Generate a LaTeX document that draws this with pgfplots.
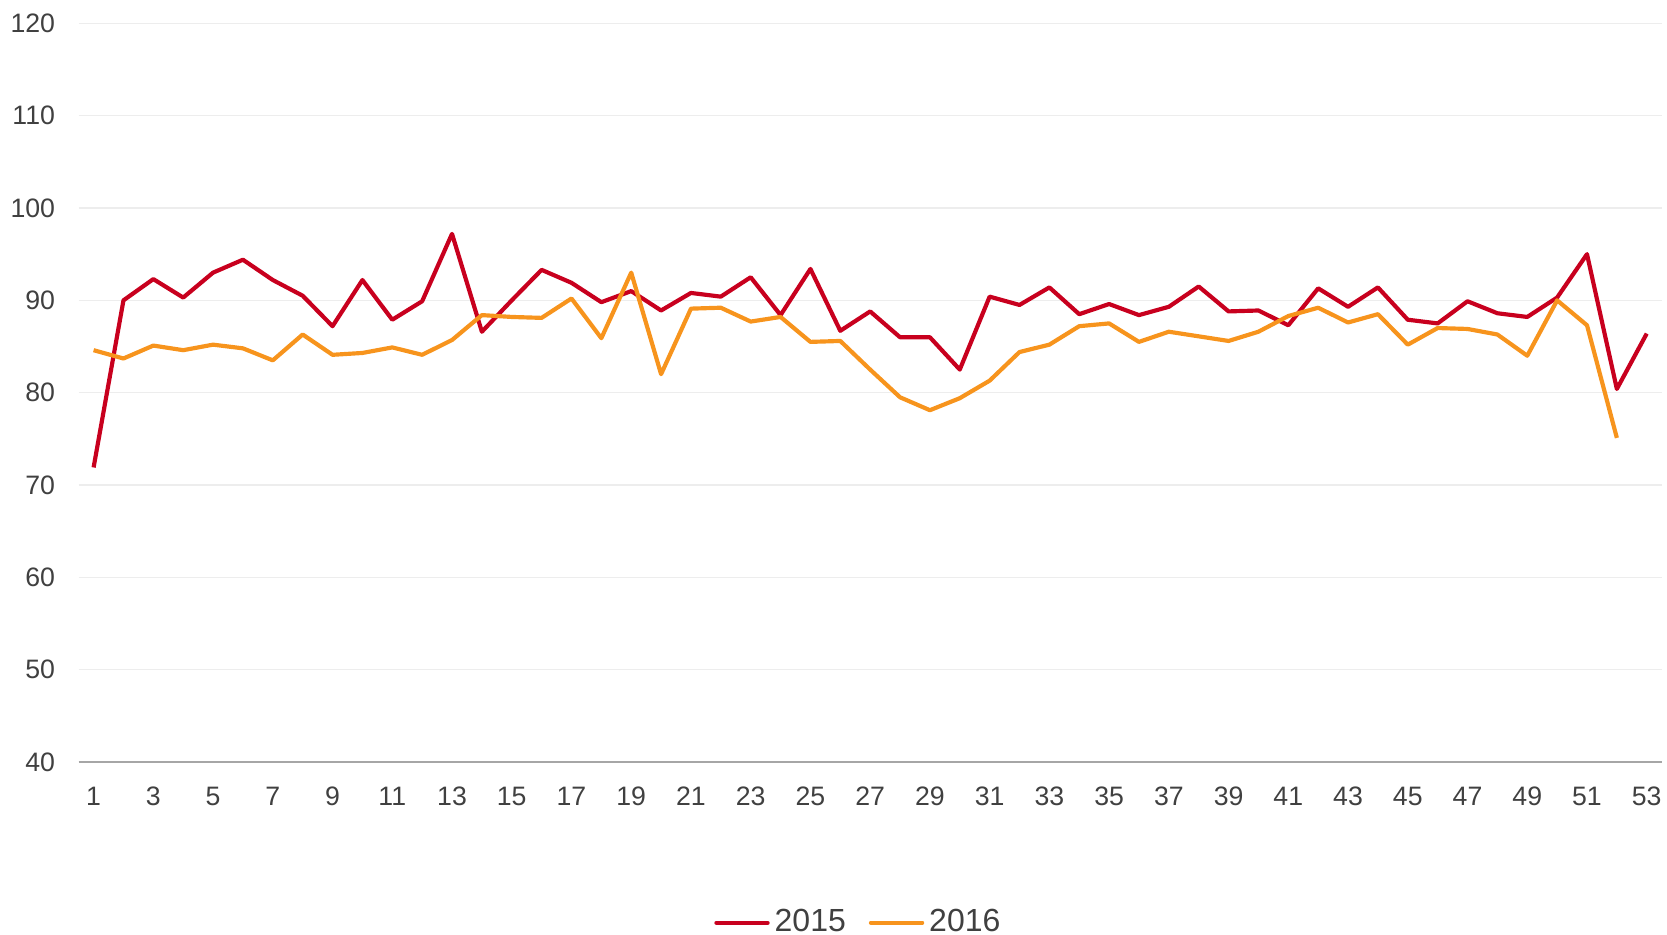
\documentclass[border=0pt]{standalone}
\usepackage{pgfplots}
\pgfplotsset{compat=1.18}
\usepackage{pgfplotstable}
\usepackage{fontspec}
\setmainfont{Liberation Sans}
\definecolor{serA}{HTML}{C8001E}
\definecolor{serB}{HTML}{F7941D}
\definecolor{txt}{HTML}{404040}
\definecolor{grd}{HTML}{EDEDED}
\definecolor{axl}{HTML}{A6A6A6}
\pgfplotstableread{
w v
1 71.9
2 90.0
3 92.3
4 90.3
5 93.0
6 94.4
7 92.2
8 90.5
9 87.2
10 92.2
11 87.9
12 89.9
13 97.2
14 86.6
15 90.0
16 93.3
17 91.9
18 89.8
19 91.0
20 88.9
21 90.8
22 90.4
23 92.5
24 88.4
25 93.4
26 86.7
27 88.8
28 86.0
29 86.0
30 82.5
31 90.4
32 89.5
33 91.4
34 88.5
35 89.6
36 88.4
37 89.3
38 91.5
39 88.8
40 88.9
41 87.3
42 91.3
43 89.3
44 91.4
45 87.9
46 87.5
47 89.9
48 88.6
49 88.2
50 90.3
51 95.0
52 80.4
53 86.4
}\tableA
\pgfplotstableread{
w v
1 84.6
2 83.7
3 85.1
4 84.6
5 85.2
6 84.8
7 83.5
8 86.3
9 84.1
10 84.3
11 84.9
12 84.1
13 85.7
14 88.4
15 88.2
16 88.1
17 90.2
18 85.9
19 93.0
20 82.0
21 89.1
22 89.2
23 87.7
24 88.2
25 85.5
26 85.6
27 82.5
28 79.5
29 78.1
30 79.4
31 81.3
32 84.4
33 85.2
34 87.2
35 87.5
36 85.5
37 86.6
38 86.1
39 85.6
40 86.6
41 88.3
42 89.2
43 87.6
44 88.5
45 85.2
46 87.0
47 86.9
48 86.3
49 84.0
50 90.0
51 87.3
52 75.1
}\tableB
\begin{document}
\begin{tikzpicture}
\useasboundingbox (0,0) rectangle (500.1pt,280.5pt);
\begin{axis}[
  at={(23.6pt,51.9pt)}, anchor=south west,
  scale only axis,
  width=474.9pt, height=221.6pt,
  xmin=0.5, xmax=53.5,
  ymin=40, ymax=120,
  ytick={40,50,...,120},
  xtick={1,3,...,53},
  axis line style={draw=none},
  axis x line*=bottom,
  axis y line*=left,
  major tick length=0pt,
  ymajorgrids,
  grid style={grd, line width=0.45pt},
  tick label style={font=\fontsize{8}{9.5}\selectfont, text=txt},
  /pgf/number format/assume math mode=true,
  yticklabel style={inner sep=0pt, anchor=east, xshift=-6.9pt},
  xticklabel style={inner sep=0pt, anchor=north, yshift=-7.2pt},
  legend style={at={(axis description cs:0.4935,-0.2176)}, anchor=center,
    draw=none, fill=none, font=\fontsize{9.6}{11.5}\selectfont, text=txt,
    /tikz/every even column/.append style={column sep=5.4pt},
    nodes={inner sep=1.5pt}},
  legend columns=2,
  legend cell align=left,
  legend image code/.code={\draw[#1, line width=1.1pt, line cap=round] (0pt,0pt) -- (15.5pt,0pt);},
  clip=false,
]
\draw[axl, line width=0.6pt] (rel axis cs:0,0) -- (rel axis cs:1,0);
\addplot[serA, line width=1.25pt, line join=round, no markers] table[x=w,y=v] {\tableA};
\addlegendentry{2015}
\addplot[serB, line width=1.25pt, line join=round, no markers] table[x=w,y=v] {\tableB};
\addlegendentry{2016}
\end{axis}
\end{tikzpicture}
\end{document}
